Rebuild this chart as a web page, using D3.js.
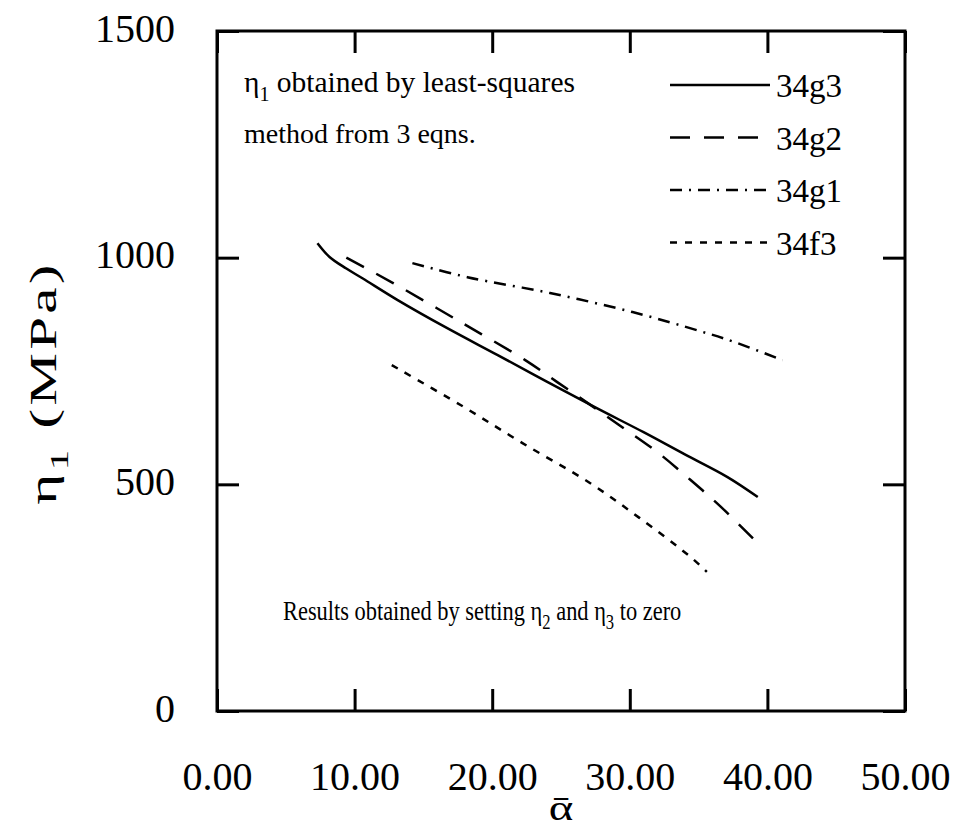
<!DOCTYPE html>
<html>
<head>
<meta charset="utf-8">
<script src="https://cdn.jsdelivr.net/npm/d3@7"></script>
<style>
  body { margin: 0; background: #fff; }
  text { font-family: "Liberation Serif", "Times New Roman", serif; fill: #000; }
</style>
</head>
<body>
<svg id="chart"></svg>
<script>
// values
let seriesNames = ["34g3", "34g2", "34g1", "34f3"];

let alpha_g3 = [7.3, 8.2, 9.4, 10.6, 13.1, 16.7, 20.4, 24.0, 27.6, 31.0, 34.0, 37.1, 39.3];
let eta_g3   = [1032, 1001, 976, 954, 907, 845, 785, 726, 668, 615, 566, 516, 472];

let alpha_g2 = [9.4, 12.8, 17.7, 22.4, 24.7, 27.0, 29.4, 32.0, 34.4, 36.7, 39.2];
let eta_g2   = [1000, 944, 858, 774, 726, 678, 627, 571, 510, 448, 373];

let alpha_g1 = [14.2, 18.2, 24.2, 30.2, 35.1, 37.5, 41.1];
let eta_g1   = [988, 957, 922, 880, 838, 815, 774];

let alpha_f3 = [12.7, 17.7, 22.2, 27.1, 30.7, 34.4, 35.6];
let eta_f3   = [763, 675, 591, 503, 426, 340, 307];

let xTicks = [0, 10, 20, 30, 40, 50];
let yTicks = [0, 500, 1000, 1500];

let drawChart = function() {
	const width = 954;
	const height = 827;
	const left = 217, right = 905, top = 31, bottom = 711;

	let svg = d3.select("#chart")
		.attr("width", width)
		.attr("height", height)

	let xScale = d3.scaleLinear().domain([0, 50]).range([left, right])
	let yScale = d3.scaleLinear().domain([0, 1500]).range([bottom, top])

	// inward ticks on all four sides
	let xAxis = d3.axisBottom(xScale).tickValues(xTicks)
		.tickSizeInner(-22).tickSizeOuter(0).tickPadding(51)
		.tickFormat(d3.format(".2f"))
	let xAxisTop = d3.axisTop(xScale).tickValues(xTicks)
		.tickSizeInner(-22).tickSizeOuter(0).tickFormat("")
	let yAxis = d3.axisLeft(yScale).tickValues(yTicks)
		.tickSizeInner(-22).tickSizeOuter(0).tickPadding(42)
		.tickFormat(d3.format("d"))
	let yAxisRight = d3.axisRight(yScale).tickValues(yTicks)
		.tickSizeInner(-22).tickSizeOuter(0).tickFormat("")

	let addAxis = function(axis, tx, ty) {
		let g = svg.append("g")
			.attr("transform", `translate(${tx}, ${ty})`)
			.call(axis)
		g.select(".domain").remove()
		g.selectAll("line").attr("stroke", "#000").attr("stroke-width", 3)
		g.selectAll("text")
			.style("font-size", "40px")
			.attr("fill", "#000")
		return g
	}
	addAxis(xAxis, 0, bottom)
	addAxis(xAxisTop, 0, top)
	addAxis(yAxis, left, 0).selectAll("text").attr("dy", "0.25em")
	addAxis(yAxisRight, right, 0)

	// frame
	svg.append("rect")
		.attr("x", left).attr("y", top)
		.attr("width", right - left).attr("height", bottom - top)
		.attr("fill", "none").attr("stroke", "#000").attr("stroke-width", 3)

	// curves
	let series = [
		{ name: seriesNames[0], x: alpha_g3, y: eta_g3, dash: null },
		{ name: seriesNames[1], x: alpha_g2, y: eta_g2, dash: "20,14" },
		{ name: seriesNames[2], x: alpha_g1, y: eta_g1, dash: "12,7,2,7" },
		{ name: seriesNames[3], x: alpha_f3, y: eta_f3, dash: "7,8" }
	]

	let line = d3.line()
		.x(d => xScale(d[0]))
		.y(d => yScale(d[1]))
		.curve(d3.curveCatmullRom)

	svg.selectAll("path.curve")
		.data(series)
		.enter()
		.append("path")
			.classed("curve", true)
			.attr("d", s => line(s.x.map((v, i) => [v, s.y[i]])))
			.attr("fill", "none")
			.attr("stroke", "#000")
			.attr("stroke-width", 2.5)
			.attr("stroke-dasharray", s => s.dash)

	// legend
	let legend = svg.append("g").attr("transform", "translate(670, 85)")
	let rows = legend.selectAll("g")
		.data(series)
		.enter()
		.append("g")
			.attr("transform", (d, i) => `translate(0, ${i * 52.5})`)
	rows.append("line")
		.attr("x1", 0).attr("x2", 100)
		.attr("stroke", "#000").attr("stroke-width", 2.5)
		.attr("stroke-dasharray", d => d.dash)
	rows.append("text")
		.attr("x", 106).attr("y", 12)
		.style("font-size", "33px")
		.text(d => d.name)

	// annotations
	let note1 = svg.append("text").attr("x", 244).attr("y", 92).style("font-size", "29.5px")
	note1.append("tspan").text("η")
	note1.append("tspan").attr("dy", 9).style("font-size", "20px").text("1")
	note1.append("tspan").attr("dy", -9).text(" obtained by least-squares")

	svg.append("text").attr("x", 244).attr("y", 143).style("font-size", "28px")
		.text("method from 3 eqns.")

	let note2 = svg.append("text")
		.attr("transform", "translate(283, 620) scale(0.83, 1)")
		.style("font-size", "27px")
	note2.append("tspan").text("Results obtained by setting η")
	note2.append("tspan").attr("dy", 9).style("font-size", "20px").text("2")
	note2.append("tspan").attr("dy", -9).text(" and η")
	note2.append("tspan").attr("dy", 9).style("font-size", "20px").text("3")
	note2.append("tspan").attr("dy", -9).text(" to zero")

	// axis titles (alpha with a combining bar)
	svg.append("text")
		.attr("transform", "translate(561, 820) scale(1.3, 1)")
		.attr("text-anchor", "middle")
		.style("font-size", "36px")
		.text("α\u0304")

	let yTitle = svg.append("text")
		.attr("transform", "translate(56, 383) rotate(-90) scale(1.6, 1)")
		.attr("text-anchor", "middle")
		.style("font-size", "37px")
		.style("letter-spacing", "2px")
	yTitle.append("tspan").text("η")
	yTitle.append("tspan").attr("dy", 12).style("font-size", "26px").text("1")
	yTitle.append("tspan").attr("dy", -12).text(" (MPa)")
}

drawChart();
</script>
</body>
</html>
